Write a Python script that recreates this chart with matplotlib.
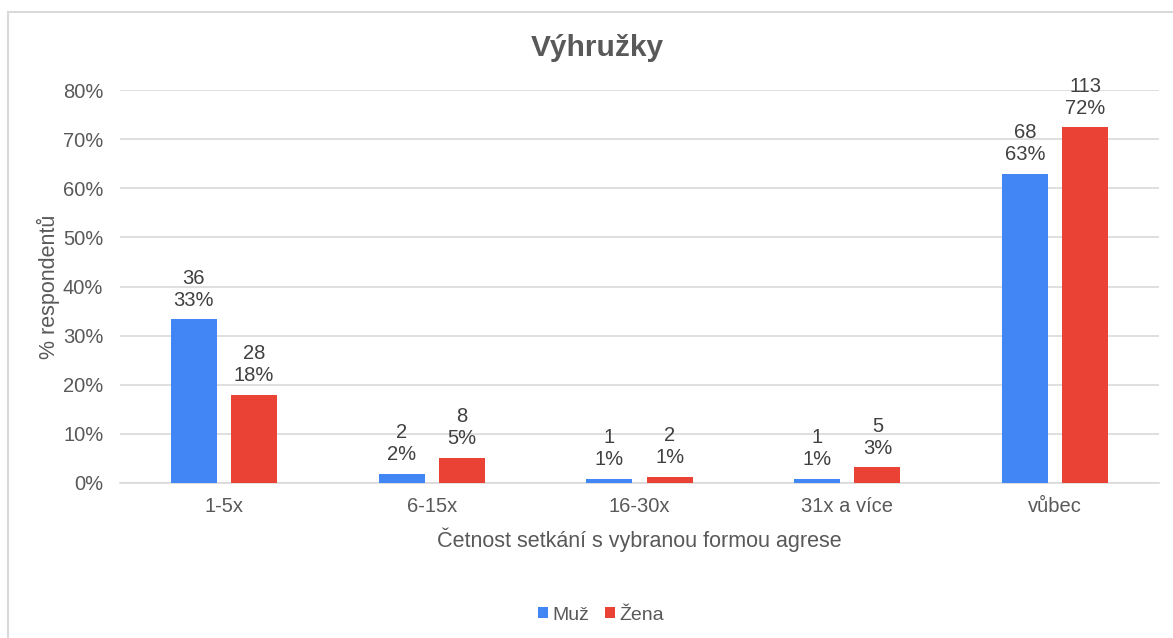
import numpy as np
import matplotlib.pyplot as plt
from matplotlib.patches import Rectangle

plt.rcParams['font.family'] = ['Liberation Sans', 'DejaVu Sans']

# Data
categories = ['1-5x', '6-15x', '16-30x', '31x a více', 'vůbec']
muz_counts = [36, 2, 1, 1, 68]
zena_counts = [28, 8, 2, 5, 113]
muz_pct = [33.3, 1.9, 0.9, 0.9, 63.0]
zena_pct = [17.9, 5.1, 1.3, 3.2, 72.4]

blue = '#4285F4'
red = '#EA4335'
label_col = '#404040'
tick_col = '#595959'

fig = plt.figure(figsize=(11.73, 6.38), dpi=100)
ax = fig.add_axes([120 / 1173, 1 - 483 / 638, (1159 - 120) / 1173, (483 - 90) / 638])

# outer chart border
fig.patches.append(Rectangle((8 / 1173, -0.1), 1.2, 1 - 12 / 638 + 0.1,
                             transform=fig.transFigure, fill=False,
                             edgecolor='#D9D9D9', linewidth=1.5))

x = np.arange(len(categories))
w = 0.222
off = 0.145
b1 = ax.bar(x - off, muz_pct, w, color=blue, label='Muž', zorder=3)
b2 = ax.bar(x + off, zena_pct, w, color=red, label='Žena', zorder=3)

for bars, counts, pcts in [(b1, muz_counts, muz_pct), (b2, zena_counts, zena_pct)]:
    for bar, c, p in zip(bars, counts, pcts):
        ax.annotate(f'{c}\n{p:.0f}%', (bar.get_x() + bar.get_width() / 2, bar.get_height()),
                    xytext=(0, 7), textcoords='offset points', ha='center', va='bottom',
                    fontsize=14.5, color=label_col, linespacing=1.2)

ax.set_xlim(-0.5, len(categories) - 0.5)
ax.set_ylim(0, 80)
ax.set_yticks(range(0, 81, 10))
ax.set_yticklabels([f'{v}%' for v in range(0, 81, 10)])
ax.set_xticks(x)
ax.set_xticklabels(categories)
ax.tick_params(axis='both', length=0, labelsize=14.5, colors=tick_col)
ax.tick_params(axis='y', pad=12)
ax.tick_params(axis='x', pad=10)
ax.grid(axis='y', color='#D9D9D9', linewidth=1.2, zorder=0)
for s in ['top', 'right', 'left']:
    ax.spines[s].set_visible(False)
ax.spines['bottom'].set_color('#D9D9D9')
ax.spines['bottom'].set_linewidth(1.2)

ax.set_xlabel('Četnost setkání s vybranou formou agrese', fontsize=15.5, color=tick_col, labelpad=8)
ax.set_ylabel('% respondentů', fontsize=15.5, color=tick_col, labelpad=2)

fig.text(597 / 1173, 1 - 48 / 638, 'Výhružky', ha='center', va='center',
         fontsize=21.5, fontweight='bold', color=tick_col)

fig.legend(handles=[b1, b2], labels=['Muž', 'Žena'], loc='center',
           bbox_to_anchor=(601 / 1173, 1 - 615 / 638), ncol=2, frameon=False,
           fontsize=14, labelcolor=tick_col, handlelength=0.5, handleheight=0.5,
           handletextpad=0.25, columnspacing=0.8)

fig.savefig('out.png', dpi=100)
